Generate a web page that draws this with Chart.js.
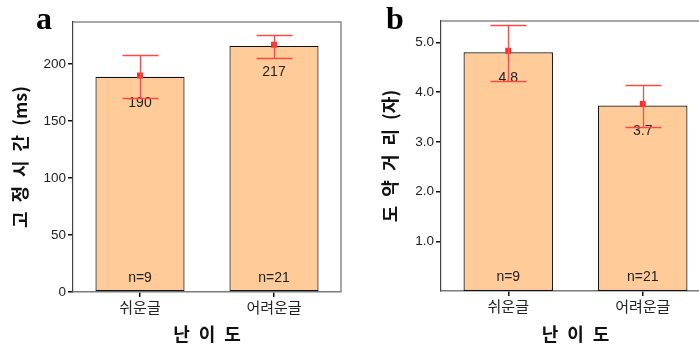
<!DOCTYPE html>
<html>
<head>
<meta charset="utf-8">
<script src="https://cdn.jsdelivr.net/npm/chart.js@4"></script>
<style>
  html, body { margin: 0; padding: 0; background: #fff; overflow: hidden; width: 699px; height: 348px; }
  .panel { position: absolute; top: 0; height: 348px; }
  .letter { position: absolute; font-family: 'Liberation Serif', serif; font-weight: bold; font-size: 32px; line-height: 1; }
</style>
</head>
<body>
<div class="panel" style="left:0;width:350px"><canvas id="chartA"></canvas></div>
<div class="panel" style="left:350px;width:370px"><canvas id="chartB"></canvas></div>
<div class="letter" style="left:36px;top:2px">a</div>
<div class="letter" style="left:386px;top:2px">b</div>
<script>
const categories = ['쉬운글', '어려운글'];
const nLabels = ['n=9', 'n=21'];

// 고정 시간 (ms)
const fixBars = [189, 216];
const fixMeans = [190, 217];
const fixLow = [170.4, 205.5];
const fixHigh = [207.6, 226];
const fixText = ['190', '217'];
const fixTicks = [0, 50, 100, 150, 200];

// 도약 거리 (자)
const jumpBars = [4.80, 3.73];
const jumpMeans = [4.83, 3.76];
const jumpLow = [4.22, 3.30];
const jumpHigh = [5.34, 4.14];
const jumpText = ['4.8', '3.7'];
const jumpTicks = [1, 2, 3, 4, 5];

const SP = '\u2002';

const extras = {
    id: 'extras',
    afterDatasetsDraw(chart, args, opts) {
        const ctx = chart.ctx;
        const x = chart.scales.x, y = chart.scales.y;
        const area = chart.chartArea;
        ctx.save();
        // box top + right in grey
        ctx.strokeStyle = '#8a8a8a';
        ctx.lineWidth = 1.5;
        ctx.beginPath();
        ctx.moveTo(area.left, area.top);
        ctx.lineTo(area.right, area.top);
        ctx.lineTo(area.right, area.bottom);
        ctx.stroke();

        // labels inside bars
        ctx.fillStyle = '#222';
        ctx.font = '14px "Liberation Sans", sans-serif';
        ctx.textAlign = 'center';
        ctx.textBaseline = 'middle';
        opts.bars.forEach((v, i) => {
            const cx = x.getPixelForValue(i);
            ctx.fillText(opts.text[i], cx, y.getPixelForValue(v) + 26);
            ctx.fillText(nLabels[i], cx, area.bottom - 14);
        });

        // error bars
        ctx.strokeStyle = '#ff4848';
        ctx.lineWidth = 1.3;
        opts.low.forEach((lo, i) => {
            const cx = Math.round(x.getPixelForValue(i)) + 0.5;
            const y1 = Math.round(y.getPixelForValue(lo)) + 0.5;
            const y2 = Math.round(y.getPixelForValue(opts.high[i])) + 0.5;
            ctx.beginPath();
            ctx.moveTo(cx, y1); ctx.lineTo(cx, y2);
            ctx.moveTo(cx - 18, y1); ctx.lineTo(cx + 18, y1);
            ctx.moveTo(cx - 18, y2); ctx.lineTo(cx + 18, y2);
            ctx.stroke();
        });
        ctx.restore();
    }
};

function makeChart(id, bars, means, low, high, text, ticks, yMax, yTitle, yWidth, padRight, padTop, xHeight, fmt, titlePad) {
    return new Chart(document.getElementById(id), {
        data: {
            labels: categories,
            datasets: [{
                type: 'line',
                data: means,
                showLine: false,
                pointStyle: 'rect',
                pointRadius: 4.2,
                pointBackgroundColor: '#ff2e2e',
                pointBorderColor: '#ff2e2e',
                pointBorderWidth: 0,
                order: 0
            }, {
                type: 'bar',
                data: bars,
                backgroundColor: '#ffcc99',
                borderColor: '#111',
                borderWidth: 1.2,
                borderSkipped: false,
                categoryPercentage: 1,
                barPercentage: 0.665,
                order: 1
            }]
        },
        options: {
            responsive: false,
            animation: false,
            layout: { padding: { left: 0, right: padRight, top: padTop, bottom: 0 } },
            plugins: {
                legend: { display: false },
                tooltip: { enabled: false },
                extras: { bars: bars, low: low, high: high, text: text }
            },
            scales: {
                x: {
                    offset: true,
                    grid: { offset: false, drawOnChartArea: false, tickLength: 5, color: '#111', lineWidth: 1.5 },
                    border: { display: true, color: '#7a7a7a', width: 1.5 },
                    ticks: { color: '#222', padding: 1, font: { family: '"Noto Sans CJK KR"', size: 15 } },
                    title: { display: true, text: ['난', '이', '도'].join(SP), color: '#111', padding: { top: 0, bottom: 3 },
                        font: { family: '"Noto Sans CJK KR"', size: 18, weight: 'bold' } },
                    afterFit(s) { s.height = xHeight; }
                },
                y: {
                    min: 0,
                    max: yMax,
                    afterBuildTicks(s) { s.ticks = ticks.map(v => ({ value: v })); },
                    grid: { drawOnChartArea: false, tickLength: 5, color: '#111', lineWidth: 1.5 },
                    border: { display: true, color: '#444', width: 1.2 },
                    ticks: { color: '#222', padding: 2, font: { family: '"Liberation Sans"', size: 13.5 },
                        callback: fmt },
                    title: { display: true, text: yTitle.split(' ').join(SP), color: '#111', padding: { top: titlePad, bottom: 0 },
                        font: { family: '"Noto Sans CJK KR"', size: 18, weight: 'bold' } },
                    afterFit(s) { s.width = yWidth; }
                }
            }
        },
        plugins: [extras]
    });
}

function setSize(id, w, h) {
    const c = document.getElementById(id);
    c.width = w; c.height = h;
    c.style.width = w + 'px'; c.style.height = h + 'px';
}
setSize('chartA', 350, 348);
setSize('chartB', 370, 348);

makeChart('chartA', fixBars, fixMeans, fixLow, fixHigh, fixText, fixTicks, 237,
    '고 정 시 간 (ms)', 73, 9, 22, 56, v => String(v), 9);
makeChart('chartB', jumpBars, jumpMeans, jumpLow, jumpHigh, jumpText, jumpTicks, 5.43,
    '도 약 거 리 (자)', 91, 10, 21, 57, v => v.toFixed(1), 29);
</script>
</body>
</html>
